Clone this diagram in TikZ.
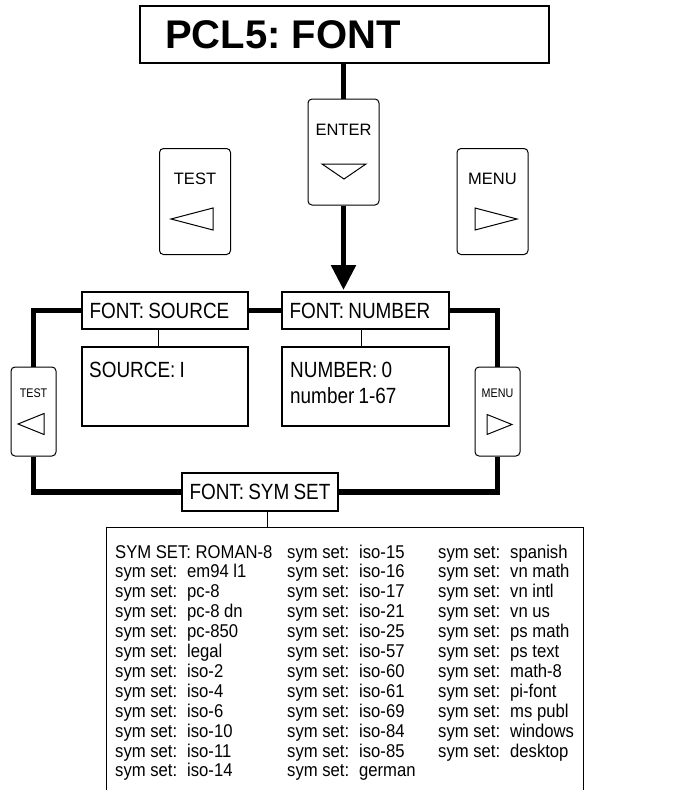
\documentclass[tikz,border=0pt]{standalone}
\usepackage{fontspec}
\setmainfont{Liberation Sans}
\newfontfamily\narrowsf[FakeStretch=0.86, WordSpace=0.8]{Liberation Sans}
\newfontfamily\listsf[FakeStretch=0.9]{Liberation Sans}
\usetikzlibrary{positioning, arrows.meta, calc}

\newcommand{\symset}[1]{sym set:\hspace{10pt}#1}

\begin{document}
\frenchspacing
\begin{tikzpicture}[
    % GLOBAL SETTINGS
    x=1pt, y=-1pt,
    % STYLES
    frame/.style={draw, line width=1.2pt, inner sep=0pt},
    key/.style={draw, rounded corners=4pt, line width=1pt, minimum width=71, minimum height=106, inner sep=0pt},
    smallkey/.style={key, minimum width=45, minimum height=89},
    keytxt/.style={font=\fontsize{16.5}{18}\selectfont, inner sep=0pt},
    smallkeytxt/.style={font=\narrowsf\fontsize{12.5}{14}\selectfont, inner sep=0pt},
    menubox/.style={frame, align=flush left, inner xsep=7.5pt, text width=#1, minimum height=37, font=\narrowsf\fontsize{22}{26}\selectfont},
    disp/.style={frame, minimum width=166, minimum height=79},
    disptxt/.style={font=\narrowsf\fontsize{22}{26}\selectfont, inner sep=0pt, anchor=base west},
    listtxt/.style={font=\listsf\fontsize{18.5}{20}\selectfont, inner sep=0pt, anchor=base west},
    flow/.style={line width=5.5pt},
    link/.style={line width=1pt},
    tri/.style={line width=1pt, line join=miter}
]

    \clip (0,0) rectangle (678,790);

    % title and the three keys
    \node[frame, align=flush left, text width=359pt, inner xsep=25pt, minimum height=57,
          font=\bfseries\fontsize{40}{44}\selectfont] (title) at (344.5,34.5) {PCL5: FONT};

    \node[key] (enter) at (343.5,152) {};
    \node[key] (test)  at (195,201.5) {};
    \node[key] (menu)  at (492.5,201.5) {};

    \node[keytxt] (enterlbl) at ([yshift=22pt]enter.center) {ENTER};
    \node[keytxt] (testlbl)  at ([yshift=22.5pt]test.center) {TEST};
    \node[keytxt] (menulbl)  at ([yshift=22.5pt]menu.center) {MENU};

    \draw[tri] ([shift={(-21.5,12)}]enter.center) -- ([shift={(22.5,12)}]enter.center) -- ([shift={(0.5,27)}]enter.center) -- cycle;
    \draw[tri] ([shift={(-24,17.5)}]test.center) -- ([shift={(18,6.5)}]test.center) -- ([shift={(18,28.5)}]test.center) -- cycle;
    \draw[tri] ([shift={(24.5,17.5)}]menu.center) -- ([shift={(-17.5,6.5)}]menu.center) -- ([shift={(-17.5,28.5)}]menu.center) -- cycle;

    \coordinate (arrtip) at (343.5,290);
    \draw[flow] (enter.north |- title.south) -- (enter.north);
    \draw[flow, -{Triangle[width=24pt, length=25pt]}] (enter.south) -- (arrtip);

    % menu loop
    \node[menubox=151pt] (src) at (165,310.5) {FONT: SOURCE};
    \node[menubox=152pt] (num) at (365.5,310.5) {FONT: NUMBER};
    \node[menubox=141pt, minimum height=38] (sym) at (260,492) {\mbox{FONT: SYM SET}};

    \node[smallkey] (ltest)  at (33.5,411.5) {};
    \node[smallkey] (rmenu) at (497.5,411.5) {};
    \node[smallkeytxt] (ltestlbl) at ([yshift=18.5pt]ltest.center) {TEST};
    \node[smallkeytxt] (rmenulbl) at ([yshift=18.5pt]rmenu.center) {MENU};
    \draw[tri] ([shift={(-15.5,12.5)}]ltest.center) -- ([shift={(10.5,2)}]ltest.center) -- ([shift={(10.5,23)}]ltest.center) -- cycle;
    \draw[tri] ([shift={(14.5,13)}]rmenu.center) -- ([shift={(-10.5,3)}]rmenu.center) -- ([shift={(-10.5,23)}]rmenu.center) -- cycle;

    \draw[flow] (src) -- (num);
    \draw[flow] (src.west) -| (ltest.north);
    \draw[flow] (ltest.south) |- (sym.west);
    \draw[flow] (num.east) -| (rmenu.north);
    \draw[flow] (rmenu.south) |- (sym.east);

    % displays
    \node[disp] (srcdisp) at (165,386.5) {};
    \node[disp, minimum width=167] (numdisp) at (365.5,386.5) {};
    \draw[link] ([xshift=-7pt]src.south) -- ([xshift=-7pt]srcdisp.north);
    \draw[link] ([xshift=-4.5pt]num.south) -- ([xshift=-4.5pt]numdisp.north);

    \node[disptxt] (srcval)   at (89,377)  {SOURCE: I};
    \node[disptxt] (numval)   at (290,377) {NUMBER: 0};
    \node[disptxt] (numrange) at (290,403) {number 1-67};

    % symbol set list
    \node[frame, minimum width=477, minimum height=283, anchor=north west] (list) at (106,527) {};
    \draw[link] ([xshift=7pt]sym.south) -- ([xshift=7pt]sym.south |- list.north);

    \node[listtxt] (head) at (115,558) {SYM SET: ROMAN-8};
    \foreach \v [count=\i] in {em94 l1, pc-8, pc-8 dn, pc-850, legal, iso-2, iso-4, iso-6, iso-10, iso-11, iso-14} {
        \node[listtxt] (a\i) at (115,{558+\i*19.9}) {\symset{\v}};
    }
    \foreach \v [count=\i from 0] in {iso-15, iso-16, iso-17, iso-21, iso-25, iso-57, iso-60, iso-61, iso-69, iso-84, iso-85, german} {
        \node[listtxt] (b\i) at (287,{558+\i*19.9}) {\symset{\v}};
    }
    \foreach \v [count=\i from 0] in {spanish, vn math, vn intl, vn us, ps math, ps text, math-8, pi-font, ms publ, windows, desktop} {
        \node[listtxt] (c\i) at (438,{558+\i*19.9}) {\symset{\v}};
    }

\end{tikzpicture}
\end{document}
